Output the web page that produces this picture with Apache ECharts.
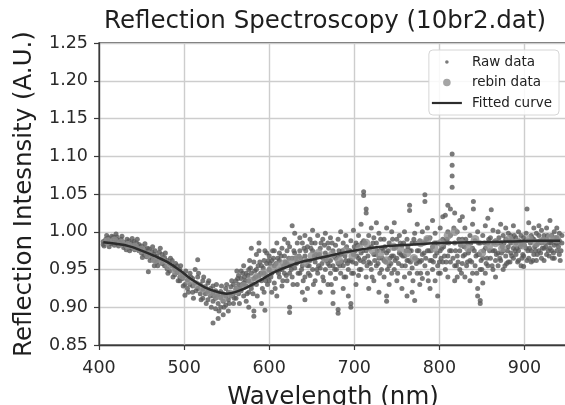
<!DOCTYPE html>
<html>
<head>
<meta charset="utf-8">
<script src="https://cdn.jsdelivr.net/npm/echarts@6/dist/echarts.min.js"></script>
<style>
html,body{margin:0;padding:0;background:#fff;}
#chart{width:565px;height:405px;}
</style>
</head>
<body>
<div id="chart"></div>
<script>
// ---- data ----
const titleText = 'Reflection Spectroscopy (10br2.dat)';
const xAxisName = 'Wavelength (nm)';
const yAxisName = 'Reflection Intesnsity (A.U.)';
const xTicks = [400, 500, 600, 700, 800, 900];
const yTicks = [0.85, 0.90, 0.95, 1.00, 1.05, 1.10, 1.15, 1.20, 1.25];
const seriesNames = ['Raw data', 'rebin data', 'Fitted curve'];

// raw measured points [wavelength, intensity]
const rawData = [
[405,0.987],[405,0.983],[408,0.990],[408,0.985],[411,0.986],[411,0.992],[414,0.984],[414,0.989],
[417,0.993],[417,0.986],[420,0.997],[420,0.985],[420,0.990],[423,0.988],[423,0.981],[426,0.983],
[426,0.990],[429,0.979],[429,0.986],[432,0.984],[432,0.976],[435,0.988],[435,0.980],[438,0.985],
[438,0.978],[441,0.982],[441,0.987],[444,0.979],[444,0.985],[447,0.983],[447,0.975],[450,0.972],
[450,0.981],[453,0.978],[453,0.970],[456,0.974],[456,0.967],[458,0.947],[459,0.971],[459,0.977],
[462,0.966],[462,0.974],[465,0.962],[465,0.970],[465,0.955],[468,0.968],[468,0.960],[471,0.973],
[471,0.964],[474,0.970],[474,0.958],[477,0.966],[477,0.955],[480,0.962],[480,0.951],[483,0.958],
[483,0.948],[486,0.955],[486,0.962],[489,0.950],[489,0.943],[492,0.946],[492,0.955],[495,0.940],
[495,0.950],[495,0.935],[498,0.938],[498,0.945],
[406,0.981],[409,0.995],[412,0.980],[415,0.994],[418,0.982],[421,0.993],[424,0.986],[427,0.994],
[430,0.982],[433,0.990],[436,0.975],[439,0.991],[442,0.976],[445,0.990],[448,0.980],[451,0.966],
[454,0.984],[457,0.978],[460,0.962],[463,0.980],[466,0.975],[469,0.955],[472,0.978],[475,0.965],
[478,0.972],[481,0.945],[484,0.965],[487,0.940],[490,0.958],[493,0.935],[496,0.955],[499,0.928],
[501,0.930],[501,0.942],[501,0.916],[504,0.936],[504,0.925],[507,0.945],[507,0.930],[510,0.928],
[510,0.938],[510,0.920],[513,0.950],[513,0.932],[516,0.963],[516,0.925],[516,0.940],[519,0.930],
[519,0.918],[522,0.935],[522,0.924],[522,0.912],[525,0.927],[525,0.918],[528,0.921],[528,0.932],
[528,0.910],[531,0.915],[531,0.925],[534,0.908],[534,0.920],[534,0.928],[534,0.879],[537,0.912],
[537,0.898],[537,0.922],[540,0.917],[540,0.905],[540,0.885],[543,0.913],[543,0.921],[543,0.900],
[546,0.908],[546,0.918],[546,0.890],[549,0.915],[549,0.925],[549,0.903],[552,0.920],[552,0.910],
[552,0.895],[555,0.927],[555,0.915],[558,0.918],[558,0.930],[558,0.905],
[502,0.948],[505,0.920],[508,0.940],[511,0.912],[514,0.922],[517,0.945],[520,0.910],[523,0.940],
[526,0.905],[529,0.935],[532,0.900],[535,0.915],[538,0.930],[541,0.895],[544,0.928],[547,0.900],
[550,0.930],[553,0.905],[556,0.935],[559,0.912],
[561,0.925],[561,0.935],[561,0.912],[564,0.930],[564,0.918],[564,0.942],[567,0.938],[567,0.922],
[567,0.948],[570,0.915],[570,0.932],[570,0.955],[573,0.928],[573,0.945],[573,0.908],[576,0.935],
[576,0.950],[576,0.920],[576,0.900],[579,0.945],[579,0.978],[579,0.925],[582,0.960],[582,0.938],
[582,0.888],[582,0.895],[585,0.950],[585,0.930],[585,0.970],[588,0.985],[588,0.975],[588,0.942],
[591,0.955],[591,0.935],[591,0.905],[594,0.945],[594,0.962],[594,0.920],[595,0.896],[597,0.958],
[597,0.940],[597,0.972],[600,0.935],[600,0.968],[600,0.950],[603,0.962],[603,0.945],[603,0.920],
[606,0.955],[606,0.975],[606,0.932],[609,0.985],[609,0.948],[609,0.915],[612,0.962],[612,0.940],
[612,0.972],[615,0.950],[615,0.978],[615,0.928],[618,0.968],[618,0.945],[618,0.990],
[562,0.948],[565,0.905],[568,0.930],[571,0.940],[574,0.918],[577,0.962],[580,0.930],[583,0.948],
[586,0.915],[589,0.960],[592,0.925],[595,0.975],[598,0.930],[601,0.958],[604,0.975],[607,0.925],
[610,0.965],[613,0.950],[616,0.935],[619,0.960],
[563,0.938],[566,0.925],[569,0.945],[572,0.935],[575,0.942],[578,0.952],[581,0.918],[584,0.940],
[587,0.955],[590,0.945],[593,0.952],[596,0.935],[599,0.962],[602,0.940],[605,0.965],[608,0.958],
[611,0.945],[614,0.968],[617,0.955],[620,0.942],
[621,0.958],[621,0.935],[621,0.975],[624,0.980],[624,0.945],[624,0.900],[624,0.893],[627,1.008],
[627,0.965],[627,0.940],[630,0.998],[630,0.952],[630,0.972],[633,0.960],[633,0.985],[633,0.930],
[636,0.975],[636,0.945],[636,0.992],[639,0.955],[639,0.985],[639,0.920],[642,0.968],[642,0.940],
[642,0.995],[642,0.910],[645,0.980],[645,0.955],[645,0.925],[648,0.962],[648,0.990],[648,0.942],
[651,0.975],[651,0.950],[651,1.002],[654,0.985],[654,0.960],[654,0.935],[657,0.968],[657,0.995],
[657,0.945],[660,0.978],[660,0.952],[660,0.920],[663,0.990],[663,0.965],[663,0.940],[666,0.972],
[666,0.950],[666,0.998],[669,0.985],[669,0.958],[669,0.930],[672,0.962],[672,0.992],[672,0.945],
[675,0.975],[675,0.955],[675,0.920],[675,0.905],[678,0.982],[678,0.965],[678,0.938],[681,0.958],
[681,0.990],[681,0.892],[681,0.897],[684,0.970],[684,0.945],[684,1.000],[687,0.985],[687,0.955],
[687,0.925],[690,0.962],[690,0.995],[690,0.940],[693,0.975],[693,0.950],[693,0.915],[696,0.988],
[696,0.962],[696,0.900],[696,0.905],[699,0.970],[699,0.945],[699,1.002],
[622,0.985],[625,0.955],[628,0.930],[631,0.965],[634,0.945],[637,0.965],[640,0.935],[643,0.975],
[646,0.945],[649,0.978],[652,0.930],[655,0.970],[658,0.955],[661,0.985],[664,0.935],[667,0.962],
[670,0.978],[673,0.930],[676,0.968],[679,0.950],[682,0.975],[685,0.960],[688,0.940],[691,0.980],
[694,0.962],[697,0.945],[700,0.980],
[623,0.965],[626,0.950],[629,0.975],[632,0.958],[635,0.968],[638,0.950],[641,0.978],[644,0.962],
[647,0.955],[650,0.985],[653,0.968],[656,0.950],[659,0.970],[662,0.958],[665,0.982],[668,0.968],
[671,0.955],[674,0.985],[677,0.950],[680,0.968],[683,0.955],[686,0.975],[689,0.968],[692,0.958],
[695,0.975],[698,0.960],
[702,0.985],[702,0.958],[702,0.930],[705,0.995],[705,0.965],[705,0.942],[708,0.972],[708,1.010],
[708,0.950],[711,1.053],[711,1.048],[711,0.988],[711,0.960],[714,1.030],[714,1.025],[714,0.975],
[714,0.940],[717,0.995],[717,0.960],[717,0.925],[720,1.005],[720,0.980],[720,0.950],[723,0.970],
[723,0.992],[723,0.935],[726,0.985],[726,0.955],[726,1.012],[729,0.965],[729,0.998],[729,0.920],
[732,0.978],[732,0.950],[735,0.990],[735,0.962],[735,0.940],[738,0.972],[738,1.005],[738,0.915],
[738,0.908],[741,0.985],[741,0.955],[741,0.930],[744,1.000],[744,0.968],[744,0.945],[747,0.978],
[747,1.012],[747,0.950],[750,0.965],[750,0.990],[750,0.935],[753,0.995],[753,0.972],[756,0.982],
[756,0.955],[756,0.925],[759,0.968],[759,1.000],[759,0.940],[762,0.990],[762,0.962],[762,0.915],
[765,1.035],[765,1.028],[765,0.975],[765,0.945],[768,0.985],[768,0.952],[768,0.920],[771,0.998],
[771,0.965],[771,0.909],[774,0.975],[774,0.945],[774,1.010],[777,0.988],[777,0.960],[777,0.930],
[780,1.000],[780,0.970],[780,0.938],[783,1.049],[783,1.040],[783,0.985],[783,0.955],[786,0.975],
[786,1.005],[786,0.945],[789,0.992],[789,0.962],[789,0.925],[792,0.980],[792,1.015],[792,0.950],
[795,0.968],[795,0.998],[795,0.935],[798,0.985],[798,0.955],[798,0.915],
[703,0.968],[706,0.950],[709,0.985],[712,0.965],[715,0.955],[718,0.978],[721,0.940],[724,0.962],
[727,0.975],[730,0.945],[733,0.965],[736,0.980],[739,0.950],[742,0.965],[745,0.990],[748,0.962],
[751,0.945],[754,0.985],[757,0.968],[760,0.955],[763,0.980],[766,0.960],[769,0.935],[772,0.985],
[775,0.962],[778,0.945],[781,0.985],[784,0.965],[787,0.935],[790,0.975],[793,0.960],[796,0.985],
[799,0.945],
[701,0.975],[704,0.982],[707,0.962],[710,0.975],[713,0.985],[716,0.968],[719,0.958],[722,0.985],
[725,0.970],[728,0.958],[731,0.990],[734,0.975],[737,0.960],[740,0.975],[743,0.958],[746,0.968],
[749,0.980],[752,0.958],[755,0.970],[758,0.985],[761,0.975],[764,0.962],[767,0.975],[770,0.990],
[773,0.958],[776,0.975],[779,0.962],[782,0.972],[785,0.990],[788,0.975],[791,0.962],[794,0.985],
[797,0.972],[800,0.960],
[801,1.005],[801,0.975],[801,0.945],[804,0.990],[804,0.960],[804,1.020],[807,1.022],[807,0.985],
[807,0.950],[810,1.035],[810,1.000],[810,0.968],[810,0.940],[813,1.030],[813,0.995],[813,0.960],
[815,1.103],[815,1.088],[815,1.074],[815,1.059],[818,1.025],[818,0.985],[818,0.955],[818,0.935],
[821,1.000],[821,0.968],[821,0.940],[824,1.015],[824,0.975],[824,0.950],[827,0.990],[827,0.958],
[827,1.020],[830,1.005],[830,0.970],[830,0.940],[833,0.985],[833,0.960],[836,0.995],[836,0.962],
[836,0.935],[839,0.978],[839,1.010],[839,0.945],[840,1.040],[840,1.030],[842,0.988],[842,0.955],
[845,0.970],[845,1.000],[845,0.925],[845,0.915],[848,0.985],[848,0.950],[848,0.909],[848,0.905],
[851,0.995],[851,0.965],[851,0.932],[854,0.978],[854,1.008],[854,0.945],[857,1.018],[857,0.985],
[857,0.955],[860,0.992],[860,0.965],[861,1.029],[863,0.975],[863,1.002],[863,0.950],[866,0.988],
[866,0.962],[866,0.940],[869,1.000],[869,0.972],[869,0.955],
[802,0.965],[805,0.980],[808,0.960],[811,0.985],[814,0.975],[817,1.005],[820,0.955],[823,0.990],
[826,0.945],[829,0.980],[832,0.955],[835,0.975],[838,0.960],[841,0.975],[844,0.945],[847,0.970],
[850,0.950],[853,0.985],[856,0.965],[859,0.975],[862,0.955],[865,0.975],[868,0.985],
[803,0.978],[806,0.968],[809,0.990],[812,0.975],[816,0.965],[819,0.975],[822,0.960],[825,0.982],
[828,0.968],[831,0.990],[834,0.972],[837,0.985],[843,0.968],[846,0.985],[849,0.962],[852,0.975],
[855,0.958],[858,0.990],[864,0.985],[867,0.970],
[872,0.985],[872,1.010],[872,0.962],[875,0.975],[875,0.995],[875,0.950],[878,0.990],[878,0.968],
[878,1.005],[881,0.980],[881,0.960],[881,0.998],[884,0.995],[884,0.972],[884,0.985],[887,0.978],
[887,1.008],[887,0.965],[890,0.992],[890,0.970],[890,0.985],[893,0.975],[893,1.000],[893,0.962],
[896,0.985],[896,0.955],[896,0.995],[899,0.992],[899,0.968],[899,0.954],[902,0.978],[903,1.030],
[902,0.998],[905,0.988],[905,0.965],[905,1.012],[908,0.975],[908,0.995],[908,0.960],[911,0.990],
[911,0.970],[911,1.005],[914,0.982],[914,0.962],[914,0.998],[917,0.995],[917,0.975],[917,1.008],
[920,0.985],[920,0.965],[920,1.002],[923,0.978],[923,0.995],[923,0.962],[926,0.990],[926,0.970],
[926,1.005],[929,0.985],[930,1.015],[929,0.968],[932,0.995],[932,0.975],[932,0.988],[935,0.982],
[935,1.000],[935,0.965],[938,0.992],[938,0.975],[938,1.005],[941,0.988],[941,0.970],[941,0.998],
[944,0.985],[944,0.995],
[871,0.965],[874,0.980],[877,0.955],[880,0.975],[883,0.960],[886,0.990],[889,0.975],[892,0.960],
[895,0.980],[898,0.970],[901,0.988],[904,0.975],[907,0.985],[910,0.962],[913,0.975],[916,0.985],
[919,0.972],[922,0.990],[925,0.980],[928,0.975],[931,0.985],[934,0.972],[937,0.985],[940,0.980],
[943,0.975],
[870,0.992],[873,0.972],[876,0.985],[879,0.958],[882,0.988],[885,0.968],[888,0.995],[891,0.978],
[894,0.988],[897,0.965],[900,0.982],[903,0.962],[906,0.978],[909,0.992],[912,0.980],[915,0.970],
[918,0.988],[921,0.978],[924,0.985],[927,0.995],[930,0.978],[933,0.965],[936,0.992],[939,0.985],
[942,0.962]
];

// rebinned points [wavelength, intensity]
const rebinData = [
[410,0.987],[418,0.988],[426,0.985],[434,0.982],[442,0.980],[450,0.976],[458,0.970],[466,0.963],
[474,0.962],[482,0.955],[490,0.948],[498,0.942],[506,0.935],[514,0.930],[522,0.925],[530,0.920],
[538,0.915],[546,0.912],[554,0.918],[562,0.922],[570,0.928],[578,0.935],[586,0.940],[594,0.945],
[602,0.950],[610,0.955],[618,0.958],[626,0.962],[634,0.965],[642,0.960],[650,0.968],[658,0.972],
[666,0.965],[674,0.970],[682,0.962],[690,0.975],[698,0.968],[706,0.978],[714,0.985],[722,0.975],
[730,0.970],[738,0.962],[746,0.980],[754,0.978],[762,0.972],[770,0.965],[778,0.985],[786,0.990],
[794,0.978],[802,0.985],[810,0.995],[818,1.000],[826,0.985],[834,0.978],[842,0.990],[850,0.972],
[858,0.980],[866,0.985],[874,0.978],[882,0.990],[890,0.985],[898,0.982],[906,0.990],[914,0.985],
[922,0.988],[930,0.992],[938,0.990]
];

// fitted curve samples [wavelength, intensity]
const fitData = [
[405,0.986],[420,0.984],[435,0.981],[450,0.975],[465,0.968],[480,0.960],[495,0.949],[510,0.936],
[525,0.926],[540,0.920],[550,0.918],[560,0.920],[575,0.927],[590,0.936],[605,0.946],[620,0.953],
[635,0.959],[650,0.963],[670,0.968],[690,0.973],[710,0.977],[740,0.981],[770,0.983],[800,0.985],
[840,0.986],[880,0.987],[920,0.988],[942,0.988]
];

const FONT = 'DejaVu Sans';
const chart = echarts.init(document.getElementById('chart'), null, {renderer: 'canvas'});
const rawIcon = 'path://M0,0M30,14M13.2,7a1.8,1.8 0 1 0 3.6,0a1.8,1.8 0 1 0 -3.6,0z';
const rebinIcon = 'path://M0,0M30,14M11.2,7a3.8,3.8 0 1 0 7.6,0a3.8,3.8 0 1 0 -7.6,0z';
const lineIcon = 'path://M0,0M30,14M0,5.9L30,5.9L30,8.1L0,8.1z';

chart.setOption({
  animation: false,
  backgroundColor: '#ffffff',
  title: {
    text: titleText,
    left: 104, top: 9, padding: 0,
    textStyle: {fontFamily: FONT, fontSize: 24.5, fontWeight: 'normal', color: '#1e1e1e'}
  },
  grid: {left: 99, top: 43, right: -2, bottom: 60, show: true, borderColor: '#3a3a3a', borderWidth: 1.3,
    backgroundColor: 'transparent', containLabel: false, outerBoundsMode: 'none'},
  legend: {
    orient: 'vertical', right: 6, top: 50,
    padding: [5, 7, 5, 3], itemGap: 6.5, itemWidth: 30, itemHeight: 14,
    backgroundColor: 'rgba(255,255,255,0.85)', borderColor: '#d6d6d6', borderWidth: 1, borderRadius: 4,
    textStyle: {fontFamily: FONT, fontSize: 13.5, color: '#222', padding: [0, 0, 0, 5]},
    data: [
      {name: seriesNames[0], icon: rawIcon},
      {name: seriesNames[1], icon: rebinIcon},
      {name: seriesNames[2], icon: lineIcon}
    ]
  },
  xAxis: {
    type: 'value', min: xTicks[0], max: 950, interval: 100,
    name: xAxisName, nameLocation: 'middle', nameGap: 40,
    nameTextStyle: {fontFamily: FONT, fontSize: 24.5, color: '#1e1e1e'},
    axisLine: {show: true, lineStyle: {color: '#3a3a3a', width: 1.3}},
    axisTick: {show: true, length: 5, lineStyle: {color: '#3a3a3a', width: 1.2}},
    axisLabel: {fontFamily: FONT, fontSize: 17.5, color: '#2a2a2a', margin: 14, showMaxLabel: false,
      formatter: v => xTicks.indexOf(v) >= 0 ? String(v) : ''},
    splitLine: {show: true, lineStyle: {color: '#cdcdcd', width: 1.4}}
  },
  yAxis: {
    type: 'value', min: yTicks[0], max: yTicks[yTicks.length - 1], interval: 0.05,
    name: yAxisName, nameLocation: 'middle', nameGap: 62, nameRotate: 90,
    nameTextStyle: {fontFamily: FONT, fontSize: 24.5, color: '#1e1e1e'},
    axisLine: {show: true, lineStyle: {color: '#3a3a3a', width: 1.3}},
    axisTick: {show: true, length: 5, lineStyle: {color: '#3a3a3a', width: 1.2}},
    axisLabel: {fontFamily: FONT, fontSize: 17.5, color: '#2a2a2a', margin: 11,
      formatter: v => v.toFixed(2)},
    splitLine: {show: true, lineStyle: {color: '#cdcdcd', width: 1.4}}
  },
  series: [
    {name: seriesNames[0], type: 'scatter', data: rawData, symbol: 'circle', symbolSize: 5,
     itemStyle: {color: '#595959'}, z: 2, large: false},
    {name: seriesNames[1], type: 'scatter', data: rebinData, symbol: 'circle', symbolSize: 8.5,
     itemStyle: {color: '#8e8e8e'}, z: 3},
    {name: seriesNames[2], type: 'line', data: fitData, smooth: 0.4, symbol: 'none', showSymbol: false,
     lineStyle: {color: '#2c2c2c', width: 2.5}, itemStyle: {color: '#2c2c2c'}, z: 4}
  ]
});
</script>
</body>
</html>
